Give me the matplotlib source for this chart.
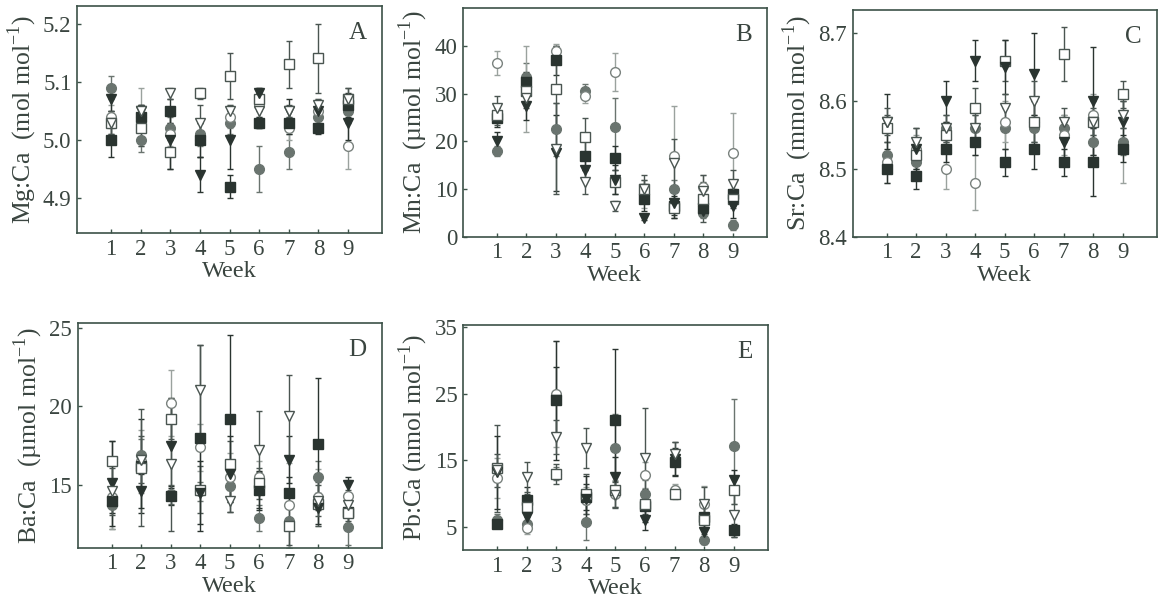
import numpy as np
import matplotlib.pyplot as plt

plt.rcParams['font.family'] = ['Liberation Serif', 'DejaVu Serif']
plt.rcParams['mathtext.fontset'] = 'custom'
plt.rcParams['mathtext.rm'] = 'Liberation Serif'

weeks = np.arange(1, 10)

# series order: filled circle, open circle, filled square, open square,
# filled triangle, open triangle
mg_mean = [
    [5.09, 5.00, 5.02, 5.01, 5.03, 4.95, 4.98, 5.04, 5.05],
    [5.04, 5.04, 5.01, 5.00, 5.04, 5.06, 5.02, 5.05, 4.99],
    [5.00, 5.04, 5.05, 5.00, 4.92, 5.03, 5.03, 5.02, 5.06],
    [5.03, 5.02, 4.98, 5.08, 5.11, 5.07, 5.13, 5.14, 5.07],
    [5.07, 5.05, 5.00, 4.94, 5.00, 5.08, 5.05, 5.05, 5.03],
    [5.03, 5.05, 5.08, 5.03, 5.05, 5.05, 5.05, 5.06, 5.07],
]
mg_err = [
    [0.02, 0.02, 0.02, 0.02, 0.02, 0.04, 0.03, 0.02, 0.02],
    [0.02, 0.05, 0.02, 0.03, 0.02, 0.02, 0.02, 0.02, 0.04],
    [0.03, 0.02, 0.02, 0.03, 0.02, 0.01, 0.02, 0.01, 0.02],
    [0.02, 0.03, 0.03, 0.01, 0.04, 0.02, 0.04, 0.06, 0.02],
    [0.02, 0.01, 0.05, 0.03, 0.05, 0.01, 0.02, 0.01, 0.03],
    [0.02, 0.01, 0.01, 0.03, 0.01, 0.03, 0.01, 0.01, 0.02],
]

mn_mean = [
    [18.0, 33.5, 22.5, 30.5, 23.0, 9.0, 10.0, 5.0, 2.5],
    [36.5, 31.0, 39.0, 29.5, 34.5, 9.0, 17.0, 10.5, 17.5],
    [25.0, 32.5, 37.0, 17.0, 16.5, 8.0, 6.5, 6.0, 9.0],
    [25.5, 30.5, 31.0, 21.0, 11.5, 10.0, 6.0, 8.0, 8.0],
    [20.0, 27.5, 17.5, 14.0, 12.0, 4.0, 7.0, 5.5, 6.5],
    [27.0, 29.0, 18.5, 11.5, 6.5, 10.0, 15.5, 9.5, 11.0],
]
mn_err = [
    [1.0, 3.0, 5.5, 1.5, 6.0, 2.0, 2.0, 1.0, 1.0],
    [2.5, 9.0, 1.5, 1.5, 4.0, 3.0, 10.5, 2.5, 8.5],
    [2.0, 2.0, 3.0, 3.0, 2.5, 2.5, 2.0, 1.5, 2.5],
    [2.0, 2.0, 9.0, 4.0, 2.5, 3.0, 2.0, 5.0, 2.0],
    [2.0, 3.0, 8.0, 2.0, 3.0, 0.5, 3.0, 1.0, 2.5],
    [2.5, 2.0, 9.5, 2.5, 1.0, 2.0, 5.0, 2.0, 3.0],
]

sr_mean = [
    [8.52, 8.51, 8.56, 8.56, 8.56, 8.56, 8.56, 8.54, 8.54],
    [8.51, 8.53, 8.50, 8.48, 8.57, 8.57, 8.55, 8.58, 8.53],
    [8.50, 8.49, 8.53, 8.54, 8.51, 8.53, 8.51, 8.51, 8.53],
    [8.56, 8.52, 8.55, 8.59, 8.66, 8.57, 8.67, 8.57, 8.61],
    [8.57, 8.53, 8.60, 8.66, 8.65, 8.64, 8.54, 8.60, 8.57],
    [8.57, 8.54, 8.56, 8.56, 8.59, 8.60, 8.57, 8.57, 8.58],
]
sr_err = [
    [0.02, 0.02, 0.02, 0.02, 0.03, 0.02, 0.02, 0.02, 0.02],
    [0.03, 0.02, 0.03, 0.04, 0.03, 0.03, 0.03, 0.03, 0.05],
    [0.02, 0.02, 0.02, 0.02, 0.02, 0.03, 0.02, 0.05, 0.02],
    [0.02, 0.02, 0.02, 0.03, 0.03, 0.03, 0.04, 0.03, 0.02],
    [0.04, 0.03, 0.03, 0.03, 0.04, 0.06, 0.03, 0.08, 0.03],
    [0.02, 0.02, 0.02, 0.02, 0.02, 0.03, 0.02, 0.02, 0.02],
]

ba_mean = [
    [13.7, 16.9, 14.4, 14.6, 14.9, 12.9, 12.7, 15.5, 12.3],
    [14.2, 16.5, 20.2, 17.4, 15.5, 15.5, 13.7, 14.2, 14.3],
    [14.0, 16.2, 14.3, 18.0, 19.2, 14.7, 14.5, 17.6, 13.3],
    [16.5, 16.1, 19.2, 14.7, 16.3, 15.1, 12.4, 13.8, 13.2],
    [15.1, 14.6, 17.5, 14.5, 15.7, 14.6, 16.6, 13.5, 15.0],
    [14.6, 16.6, 16.3, 21.0, 14.0, 17.2, 19.4, 14.0, 13.7],
]
ba_err = [
    [1.5, 1.0, 0.6, 0.6, 1.0, 0.8, 1.7, 1.0, 1.1],
    [2.0, 2.0, 2.1, 1.5, 1.5, 1.0, 2.7, 1.8, 1.0],
    [0.8, 3.0, 0.6, 5.9, 5.3, 1.2, 1.0, 4.2, 1.0],
    [1.3, 3.7, 1.3, 1.5, 1.5, 1.0, 1.2, 1.4, 0.9],
    [2.7, 1.1, 2.7, 2.0, 2.4, 1.2, 1.5, 1.0, 0.5],
    [1.5, 1.5, 4.2, 2.9, 0.7, 2.5, 2.6, 1.0, 1.0],
]

pb_mean = [
    [6.0, 5.5, 13.0, 5.7, 16.9, 10.0, 10.2, 3.0, 17.2],
    [12.3, 4.8, 25.0, 9.0, 10.0, 12.8, 10.5, 8.5, 10.5],
    [5.5, 9.0, 24.0, 9.5, 21.0, 8.2, 14.8, 6.5, 4.5],
    [13.8, 8.0, 13.0, 10.0, 10.5, 8.5, 10.0, 6.0, 10.5],
    [13.2, 6.5, 24.0, 9.2, 12.5, 6.0, 15.2, 4.2, 12.0],
    [13.5, 12.5, 18.5, 16.8, 9.8, 15.4, 16.0, 8.5, 6.8],
]
pb_err = [
    [1.0, 1.0, 1.0, 2.7, 5.0, 2.0, 1.0, 0.5, 7.0],
    [3.0, 0.8, 8.0, 2.0, 2.0, 2.0, 1.0, 2.7, 2.0],
    [0.5, 2.0, 9.0, 2.0, 10.7, 2.5, 2.0, 1.5, 1.0],
    [6.5, 2.0, 1.5, 3.0, 2.5, 1.5, 0.5, 2.0, 2.0],
    [5.5, 1.5, 5.0, 3.5, 3.0, 1.5, 2.5, 1.7, 1.5],
    [2.5, 2.3, 2.5, 3.0, 2.0, 7.4, 1.8, 2.5, 3.3],
]

dark = '#2a3430'
grey = '#6a746f'
text_col = '#3a4540'
frame_col = '#3c5248'

# marker, face colour, edge colour, error bar colour
styles = [
    ('o', grey, grey, grey),
    ('o', 'white', '#7a827e', '#9aa29e'),
    ('s', dark, dark, dark),
    ('s', 'white', '#4a5551', '#4a5551'),
    ('v', dark, dark, dark),
    ('v', 'white', '#4a5551', '#4a5551'),
]

panels = [
    ('A', 'Mg:Ca  (mol mol$^{-1}$)', mg_mean, mg_err, (4.84, 5.23), [4.9, 5.0, 5.1, 5.2], '%.1f',
     [0.0664, 0.614, 0.263, 0.376]),
    ('B', 'Mn:Ca  (µmol mol$^{-1}$)', mn_mean, mn_err, (0, 48), [0, 10, 20, 30, 40], '%d',
     [0.399, 0.608, 0.262, 0.379]),
    ('C', 'Sr:Ca  (mmol mol$^{-1}$)', sr_mean, sr_err, (8.4, 8.735), [8.4, 8.5, 8.6, 8.7], '%.1f',
     [0.735, 0.608, 0.262, 0.376]),
    ('D', 'Ba:Ca  (µmol mol$^{-1}$)', ba_mean, ba_err, (11, 25.3), [15, 20, 25], '%d',
     [0.067, 0.093, 0.262, 0.3725]),
    ('E', 'Pb:Ca (nmol mol$^{-1}$)', pb_mean, pb_err, (1.5, 35.3), [5, 15, 25, 35], '%d',
     [0.399, 0.089, 0.263, 0.3725]),
]

fig = plt.figure(figsize=(11.6, 6.04), dpi=100)

for letter, ylabel, means, errs, ylim, yticks, fmt, rect in panels:
    ax = fig.add_axes(rect)
    for (marker, face, edge, ecol), m, e in zip(styles, means, errs):
        ax.errorbar(weeks, m, yerr=e, fmt='none', ecolor=ecol, elinewidth=1.0,
                    capsize=2.5, capthick=1.0)
    for (marker, face, edge, ecol), m in zip(styles, means):
        ax.plot(weeks, m, linestyle='none', marker=marker, markersize=7,
                markerfacecolor=face, markeredgecolor=edge, markeredgewidth=1.0)
    ax.set_xlim(-0.15, 10.15)
    ax.set_ylim(*ylim)
    ax.set_xticks(weeks)
    ax.set_yticks(yticks)
    ax.yaxis.set_major_formatter(plt.FormatStrFormatter(fmt))
    ax.tick_params(direction='in', length=3, width=1, colors=frame_col,
                   labelcolor=text_col, labelsize=16.5, pad=4)
    for sp in ax.spines.values():
        sp.set_color(frame_col)
        sp.set_linewidth(1.2)
    ax.set_xlabel('Week', fontsize=17.5, color=text_col, labelpad=1)
    ax.set_ylabel(ylabel, fontsize=18.5, color=text_col, labelpad=3)
    ax.text(0.95, 0.93, letter, transform=ax.transAxes, ha='right', va='top',
            fontsize=18, color=text_col)

fig.savefig('out.png', dpi=100)
